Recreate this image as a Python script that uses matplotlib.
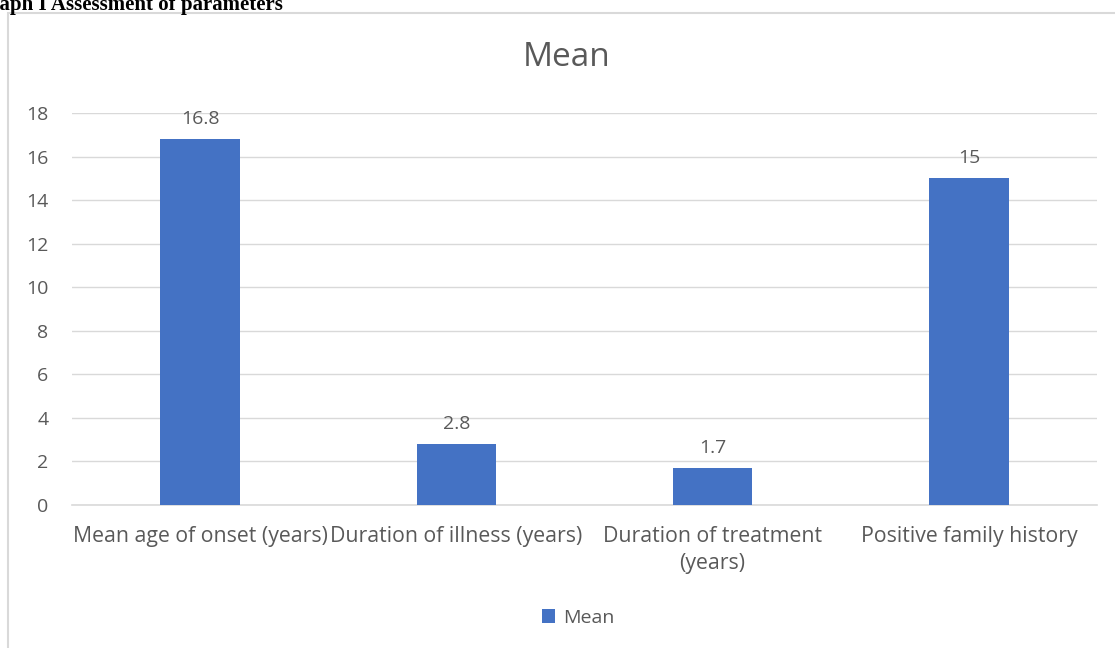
import matplotlib.pyplot as plt
from matplotlib.patches import Rectangle

categories = ["Mean age of onset (years)", "Duration of illness (years)",
              "Duration of treatment\n(years)", "Positive family history"]
means = [16.8, 2.8, 1.7, 15]
value_labels = ["16.8", "2.8", "1.7", "15"]
yticks = [0, 2, 4, 6, 8, 10, 12, 14, 16, 18]

BLUE = "#4472C4"
GRAY = "#595959"
GRID = "#D9D9D9"


def main():
    plt.rcParams['font.family'] = ["Open Sans", "DejaVu Sans"]
    fig = plt.figure(figsize=(11.15, 6.48), dpi=100)

    # chart frame
    fig.patches.append(Rectangle((8 / 1115, -0.1), 1.2, 1 - 13 / 648 + 0.1,
                                 transform=fig.transFigure, fill=False,
                                 edgecolor=GRID, linewidth=1.5))
    fig.text(-0.023, 1 - 5 / 648, "Graph I Assessment of parameters",
             family="Liberation Serif", fontweight="bold", fontsize=15,
             va="center", ha="left")

    ax = fig.add_axes([72 / 1115, 1 - 505 / 648, (1097 - 72) / 1115, (505 - 113) / 648])
    x = range(len(categories))
    bars = ax.bar(x, means, width=0.31, color=BLUE, label="Mean", zorder=3)
    for b, lab in zip(bars, value_labels):
        ax.annotate(lab, (b.get_x() + b.get_width() / 2, b.get_height()),
                    xytext=(0, 8), textcoords="offset points",
                    ha="center", va="bottom", fontsize=14, color=GRAY)

    ax.set_xlim(-0.5, 3.5)
    ax.set_ylim(0, 18)
    ax.set_yticks(yticks)
    ax.set_xticks(list(x))
    ax.set_xticklabels(categories, fontsize=15.3, color=GRAY, linespacing=1.4)
    ax.tick_params(axis="y", labelsize=14, colors=GRAY, length=0, pad=17)
    ax.tick_params(axis="x", length=0, pad=15)
    ax.grid(axis="y", color=GRID, linewidth=1, zorder=0)
    for s in ["top", "right", "left"]:
        ax.spines[s].set_visible(False)
    ax.spines["bottom"].set_color(GRID)
    ax.spines["bottom"].set_linewidth(1.2)

    fig.text(567 / 1115, 1 - 58 / 648, "Mean", fontsize=24, color=GRAY,
             ha="center", va="center")
    fig.legend(handles=[bars], labels=["Mean"], loc="center",
               bbox_to_anchor=(578 / 1115, 1 - 618 / 648), frameon=False,
               fontsize=14, labelcolor=GRAY, handlelength=0.7,
               handleheight=0.7, handletextpad=0.4)

    fig.savefig("out.png", dpi=100)


if __name__ == '__main__':
    main()
